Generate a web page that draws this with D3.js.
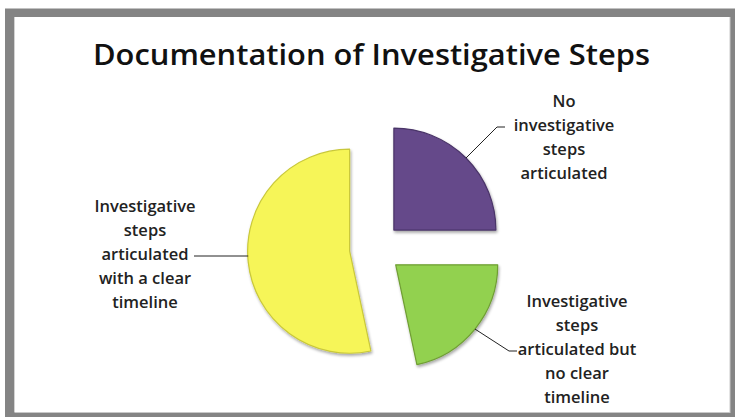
<!DOCTYPE html>
<html><head><meta charset="utf-8">
<script src="https://cdn.jsdelivr.net/npm/d3@7"></script>
<style>html,body{margin:0;padding:0;background:#fff;}svg{display:block;}</style>
</head><body>
<svg id="chart" width="735" height="417"></svg>
<script>
const title = "Documentation of Investigative Steps";
const categories = ["No investigative steps articulated", "Investigative steps articulated but no clear timeline", "Investigative steps articulated with a clear timeline"];
const values = [15, 13, 32];
const labelLines = [
  ["No", "investigative", "steps", "articulated"],
  ["Investigative", "steps", "articulated but", "no clear", "timeline"],
  ["Investigative", "steps", "articulated", "with a clear", "timeline"]
];
const colors = ["#65498a", "#92d14f", "#f6f558"];
const edgeColors = ["#4a3468", "#6f9e33", "#c9c83a"];

const svg = d3.select("#chart");
// frame
svg.append("rect").attr("x", 0).attr("y", 0).attr("width", 735).attr("height", 417).attr("fill", "#fff");
svg.append("rect").attr("x", 5).attr("y", 8.5).attr("width", 730).attr("height", 408.5).attr("fill", "#848484");
svg.append("rect").attr("x", 14.5).attr("y", 17).attr("width", 716).attr("height", 396).attr("fill", "#c8c8c8");
svg.append("rect").attr("x", 14.5).attr("y", 17).attr("width", 715).attr("height", 395).attr("fill", "#fff");

svg.append("text").attr("x", 371.5).attr("y", 65).attr("text-anchor", "middle")
  .attr("font-family", "'Open Sans', sans-serif").attr("font-size", 29).attr("font-weight", 600)
  .attr("textLength", 557).attr("lengthAdjust", "spacingAndGlyphs")
  .attr("fill", "#111").text(title);

const defs = svg.append("defs");
const f = defs.append("filter").attr("id", "sh").attr("x", "-20%").attr("y", "-20%").attr("width", "140%").attr("height", "140%");
f.append("feGaussianBlur").attr("in", "SourceAlpha").attr("stdDeviation", 1.5).attr("result", "b");
f.append("feOffset").attr("in", "b").attr("dx", 1).attr("dy", 2).attr("result", "o");
f.append("feComponentTransfer").attr("in", "o").attr("result", "o2")
  .append("feFuncA").attr("type", "linear").attr("slope", 0.35);
const m = f.append("feMerge");
m.append("feMergeNode").attr("in", "o2");
m.append("feMergeNode").attr("in", "SourceGraphic");

const cx = 375.5, cy = 248.5, r = 102, explode = 26;
const pie = d3.pie().sort(null).value(d => d);
const arcs = pie(values);
const arc = d3.arc().innerRadius(0).outerRadius(r);
const off = d => {
  const a = (d.startAngle + d.endAngle) / 2;
  return [explode * Math.sin(a), -explode * Math.cos(a)];
};

const gp = svg.append("g").attr("transform", `translate(${cx},${cy})`);
gp.selectAll("path").data(arcs).enter().append("path")
  .attr("transform", d => `translate(${off(d)})`)
  .attr("d", arc)
  .attr("fill", (d, i) => colors[i])
  .attr("stroke", (d, i) => edgeColors[i]).attr("stroke-width", 1.2)
  .attr("stroke-linejoin", "round")
  .attr("filter", "url(#sh)");

// labels and leader lines
const labelPos = [
  {x: 564, y: 107, lx: 505},
  {x: 577, y: 307, lx: 517},
  {x: 145, y: 212, lx: 194}
];
const lineRow = [1, 2, 2];
const lh = 24;
arcs.forEach((d, i) => {
  const a = (d.startAngle + d.endAngle) / 2;
  const o = off(d);
  const px = cx + o[0] + r * Math.sin(a), py = cy + o[1] - r * Math.cos(a);
  const ty = labelPos[i].y + lineRow[i] * lh - 4;
  const pts = i === 2
    ? [[labelPos[i].lx, ty], [px, ty]]
    : [[px, py], [labelPos[i].lx - 8, ty], [labelPos[i].lx, ty]];
  svg.append("path").attr("d", d3.line()(pts))
    .attr("fill", "none").attr("stroke", "#222").attr("stroke-width", 1);
  const t = svg.append("text").attr("text-anchor", "middle")
    .attr("font-family", "'Open Sans', sans-serif").attr("font-size", 16.5).attr("font-weight", 600)
    .attr("fill", "#222");
  labelLines[i].forEach((s, k) => {
    t.append("tspan").attr("x", labelPos[i].x).attr("y", labelPos[i].y + k * lh).text(s);
  });
});
</script>
</body></html>
